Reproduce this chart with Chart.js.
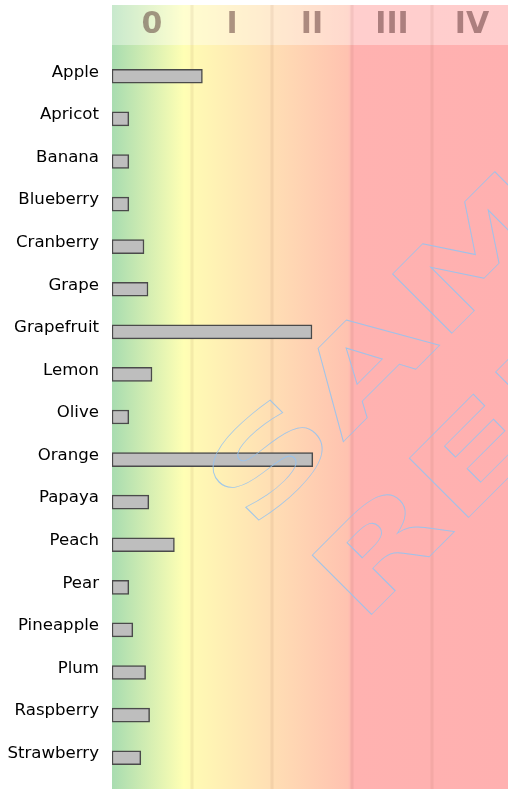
<!DOCTYPE html>
<html lang="en-US">
<head>
	<meta charset="utf-8">
	<title>Fruit zones</title>
	<script src="https://cdn.jsdelivr.net/npm/chart.js@4"></script>
	<style>
		body { margin: 0; background: #fff; }
		canvas { display: block; }
	</style>
</head>
<body>
	<canvas id="chart" width="508" height="789"></canvas>
	<script>
		const fruits = ['Apple', 'Apricot', 'Banana', 'Blueberry', 'Cranberry', 'Grape', 'Grapefruit', 'Lemon',
			'Olive', 'Orange', 'Papaya', 'Peach', 'Pear', 'Pineapple', 'Plum', 'Raspberry', 'Strawberry'];
		const values = [1.13, 0.21, 0.21, 0.21, 0.40, 0.45, 2.50, 0.50, 0.21, 2.51, 0.46, 0.78, 0.21, 0.26, 0.42, 0.47, 0.36];
		const zoneLabels = ['0', 'I', 'II', 'III', 'IV'];
		const zoneLines = [1, 2, 3, 4];
		const watermark = ['SAMPLE', 'REPORT'];

		// background zones, header band, grid and watermark
		const zones = {
			id: 'zones',
			beforeDatasetsDraw(chart) {
				const { ctx, chartArea, scales: { x } } = chart;
				const top = 5, bottom = chart.height;
				const g = ctx.createLinearGradient(x.getPixelForValue(0), 0, x.getPixelForValue(x.max), 0);
				const stop = (v, c) => g.addColorStop(Math.min(1, v / x.max), c);
				stop(0, '#a8dcb0');
				stop(0.9, '#ffffb4');
				stop(1.0, '#fffab4');
				stop(2.0, '#ffdeb4');
				stop(2.95, '#ffc2b0');
				stop(3.0, '#ffb2b0');
				stop(x.max, '#ffb0b0');
				ctx.save();
				ctx.fillStyle = g;
				ctx.fillRect(chartArea.left, top, chartArea.right - chartArea.left, bottom - top);
				ctx.fillStyle = 'rgba(255,255,255,0.37)';
				ctx.fillRect(chartArea.left, top, chartArea.right - chartArea.left, 40);
				ctx.strokeStyle = 'rgba(120,60,40,0.08)';
				ctx.lineWidth = 3;
				zoneLines.forEach(v => {
					const px = Math.round(x.getPixelForValue(v));
					ctx.beginPath();
					ctx.moveTo(px, top);
					ctx.lineTo(px, bottom);
					ctx.stroke();
				});
				ctx.fillStyle = 'rgba(70,30,30,0.45)';
				ctx.font = 'bold 30px "DejaVu Sans"';
				ctx.textAlign = 'center';
				ctx.textBaseline = 'middle';
				zoneLabels.forEach((t, i) => ctx.fillText(t, x.getPixelForValue(i + 0.5), top + 20));
				ctx.restore();
			},
			afterDatasetsDraw(chart) {
				const { ctx } = chart;
				ctx.save();
				ctx.beginPath();
				ctx.rect(chart.chartArea.left, 0, chart.width, chart.height);
				ctx.clip();
				ctx.strokeStyle = 'rgba(150,195,240,0.9)';
				ctx.lineWidth = 0.7;
				ctx.font = 'bold 115px "DejaVu Sans"';
				ctx.textBaseline = 'alphabetic';
				[[252, 533], [360, 626]].forEach(([px, py], i) => {
					ctx.save();
					ctx.translate(px, py);
					ctx.rotate(-Math.PI / 4);
					ctx.scale(1.55, 1);
					ctx.strokeText(watermark[i], 0, 0);
					ctx.restore();
				});
				ctx.restore();
			}
		};

		new Chart(document.getElementById('chart'), {
			type: 'bar',
			data: {
				labels: fruits,
				datasets: [{
					data: values,
					backgroundColor: '#bebebe',
					borderColor: '#4a4a4a',
					borderWidth: 1.5,
					borderSkipped: false,
					barThickness: 14
				}]
			},
			options: {
				indexAxis: 'y',
				responsive: false,
				animation: false,
				layout: { padding: { top: 55, bottom: 10, left: 0, right: 0 } },
				plugins: { legend: { display: false }, tooltip: { enabled: false } },
				scales: {
					x: {
						position: 'top',
						min: 0,
						max: 4.95,
						afterFit(scale) { scale.height = 0; scale.paddingLeft = 0; scale.paddingRight = 0; },
						grid: { display: false, drawTicks: false },
						border: { display: false },
						ticks: { display: false }
					},
					y: {
						afterFit(scale) {
							scale.width = 112;
							scale.paddingTop = 0;
							scale.paddingBottom = 0;
						},
						grid: { display: false, drawTicks: false },
						border: { display: false },
						ticks: {
							color: '#000',
							padding: 13,
							labelOffset: -4,
							font: { family: '"DejaVu Sans"', size: 16.6 }
						}
					}
				}
			},
			plugins: [zones]
		});
	</script>
</body>
</html>
